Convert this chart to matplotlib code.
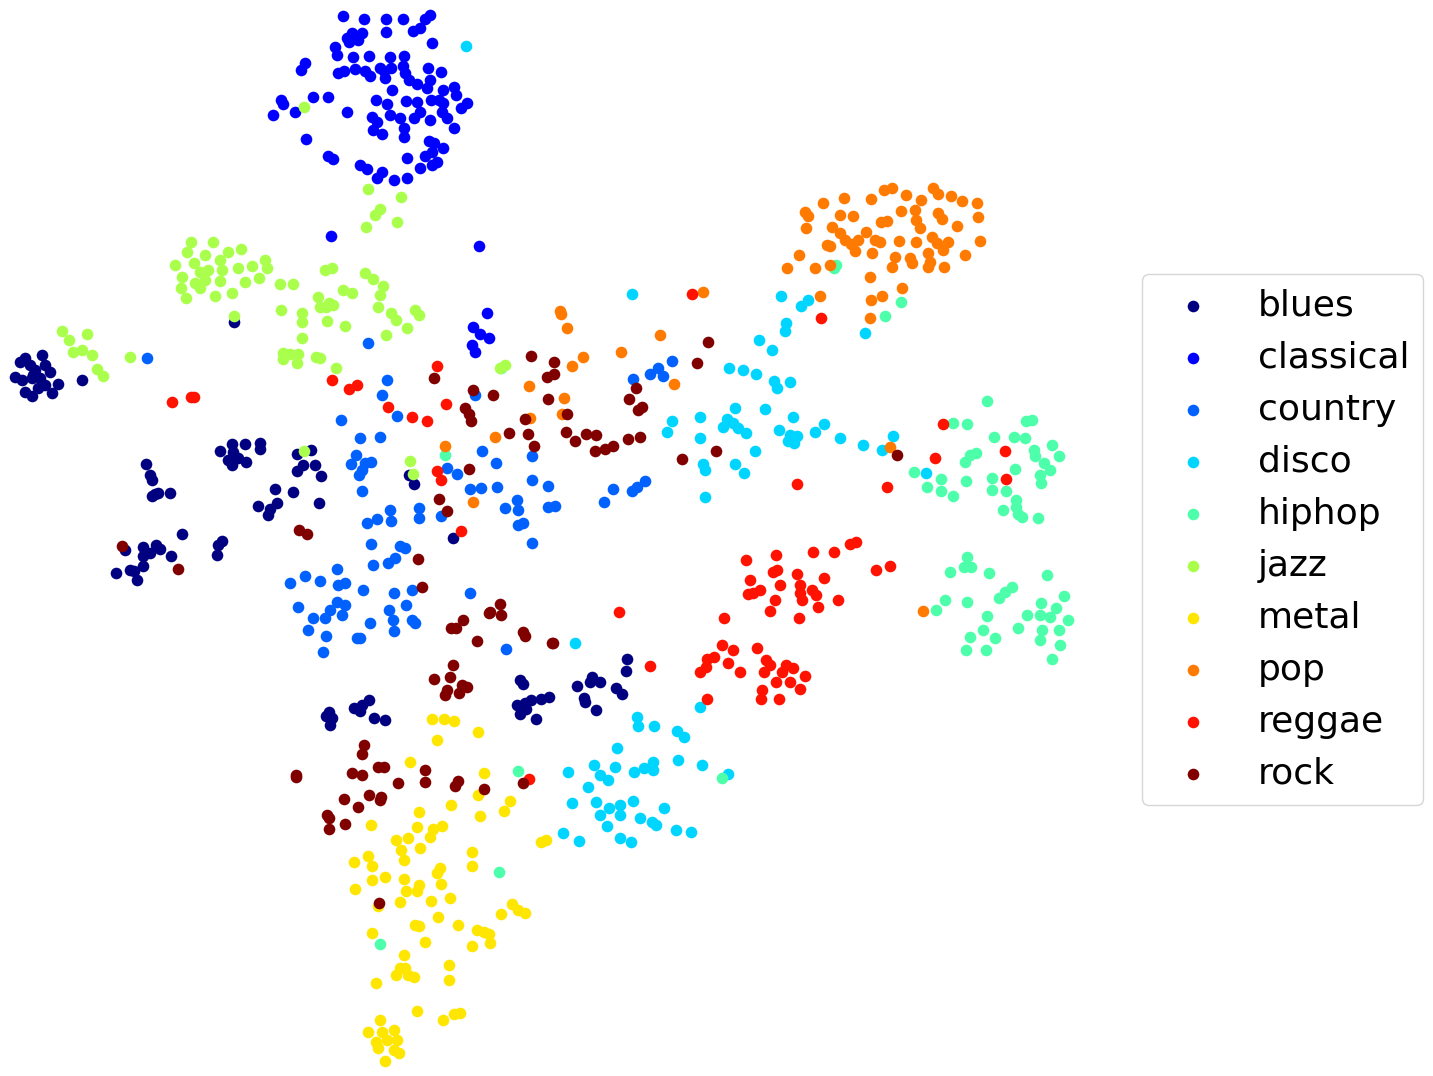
import matplotlib
matplotlib.use('Agg')
from matplotlib import pyplot as plt

genres = ['blues', 'classical', 'country', 'disco', 'hiphop', 'jazz', 'metal', 'pop', 'reggae', 'rock']

blues = [(15,377),(20,362),(25,358),(42,355),(30,365),(35,370),(45,365),(22,380),(32,378),(40,378),(50,372),(58,384),(25,392),(32,396),(45,385),(52,393),(38,388),(82,380),(33,375),
(234,322),(220,451),(232,444),(245,444),(260,443),(260,449),(233,452),(228,460),(238,458),(246,462),(232,465),
(146,464),(150,475),(152,480),(155,494),(152,496),(158,493),(170,493),
(275,489),(293,492),(277,503),(258,506),(268,515),(270,509),(297,454),(311,450),(303,465),(297,471),(315,465),(321,476),(319,503),
(116,573),(130,570),(134,571),(137,580),(125,550),(143,547),(143,556),(156,545),(150,553),(143,566),(171,556),(160,549),(182,534),(217,555),(218,545),(222,541),
(414,484),(409,475),(453,538),(627,659),(626,671),(592,677),(590,682),(600,682),(577,686),(616,688),(622,694),(584,698),(585,702),(596,710),
(520,680),(523,684),(549,697),(541,699),(531,700),(525,703),(517,705),(526,709),(520,714),(536,719),
(329,712),(326,716),(332,718),(330,725),(354,708),(362,705),(369,700),(360,711),(374,718),(385,720)]

classical = [(343,16),(364,19),(386,19),(403,19),(425,19),(430,15),(386,32),(413,31),(362,33),(352,33),(347,38),(358,40),(335,47),(349,42),(420,28),(432,43),
(337,55),(353,57),(369,56),(390,57),(404,56),(403,66),(428,68),(380,68),(391,68),(384,71),(305,63),(301,70),(344,71),(338,73),(355,69),(365,71),(370,76),(385,78),(405,73),(409,80),(430,80),(441,72),
(392,90),(417,84),(427,88),(443,90),(454,87),(456,95),(376,100),(387,104),(406,101),(417,102),(431,100),(439,100),(443,103),(467,103),(461,108),
(281,100),(283,104),(313,97),(328,97),(295,112),(273,115),(347,112),(372,117),(377,122),(390,115),(400,118),(414,118),(420,112),(442,112),(430,120),(447,118),
(404,128),(373,130),(382,134),(404,137),(454,128),(306,139),(429,141),(434,143),(443,148),(432,152),(425,156),(407,158),(328,156),(333,159),(360,165),(367,169),(420,168),(432,165),(437,162),
(382,172),(377,178),(394,180),(407,178),(331,236),(479,246),(487,313),(473,327),(480,334),(489,338),(472,345),(475,352)]

country = [(147,358),(368,343),(387,380),(382,395),(397,416),(341,420),(360,438),(380,437),(356,455),(365,463),(371,462),(351,464),(362,470),(359,475),(362,491),(377,519),(390,510),(391,521),(367,523),(419,508),(419,518),(371,544),(400,546),(405,548),(395,558),(388,563),(373,565),(441,516),
(475,395),(447,468),(457,474),(470,489),(481,488),(496,463),(482,451),(497,487),(517,500),(532,456),(532,480),(548,486),(505,508),(518,510),(523,523),(518,525),(548,507),(555,506),(532,543),
(604,502),(613,489),(632,491),(637,487),(645,481),(633,379),(650,374),(658,368),(663,376),(672,361),
(290,583),(305,576),(320,581),(337,569),(338,585),(345,583),(363,590),(298,607),(337,602),(345,605),(330,610),(313,618),(325,618),(342,615),(394,593),(412,590),(406,605),(389,610),(393,620),(412,620),(415,623),(370,623),(394,631),(308,630),(326,636),(357,638),(360,638),(323,652),(470,593),(506,649)]

disco = [(466,46),(632,294),(865,333),(786,323),(785,331),(759,340),(772,350),(781,296),(801,306),(808,300),(729,368),(743,370),(756,374),(774,381),(777,388),(790,382),(765,409),(793,417),(735,408),(727,419),(723,427),(733,423),(738,428),(746,433),(700,438),(672,421),(667,432),(700,417),(779,430),(790,435),(797,436),(788,441),(794,443),(815,432),(824,424),(840,438),(863,445),(882,450),(893,436),(703,464),(705,470),(735,464),(744,473),(755,451),(705,497),(575,643),(700,707),(637,717),(638,726),(654,726),(677,731),(684,737),(617,748),(568,772),(594,765),(600,775),(588,787),(608,780),(615,767),(634,772),(644,768),(653,762),(653,770),(678,760),(702,765),(728,774),(572,803),(596,802),(609,808),(620,805),(633,801),(600,815),(607,826),(620,815),(640,818),(652,822),(656,825),(664,808),(676,830),(691,832),(620,838),(631,842),(563,833),(579,841),(926,473)]

hiphop = [(836,265),(834,268),(885,316),(901,302),(987,401),(953,423),(967,424),(1026,421),(1032,420),(994,437),(1014,437),(1025,438),(976,453),(970,455),(965,462),(1034,450),(1035,456),(1052,445),(1059,456),(1044,463),(1050,470),(1015,469),(1040,475),(1041,483),(914,472),(927,487),(941,479),(941,491),(966,481),(992,478),(953,496),(992,490),(1006,491),(1016,500),(1003,510),(1016,507),(1018,514),(1022,517),(1038,518),(445,455),(501,368),
(967,557),(964,567),(971,567),(950,572),(989,573),(1047,575),(945,600),(936,610),(967,602),(1012,587),(1005,592),(999,598),(1064,596),(1041,603),(1056,608),(987,616),(1027,615),(1018,628),(1040,615),(1050,617),(1068,620),(1042,630),(1059,630),(983,630),(970,637),(995,638),(1040,640),(1060,645),(966,650),(986,650),(1052,659),(518,771),(722,778),(499,872),(380,944)]

jazz = [(368,189),(380,209),(375,215),(401,197),(366,227),(397,222),(304,107),
(191,242),(213,242),(187,252),(205,255),(228,252),(241,249),(175,265),(194,263),(220,260),(265,260),(200,272),(208,270),(222,270),(238,268),(252,266),(267,268),(182,277),(195,283),(205,280),(220,281),(245,282),(259,278),(181,288),(200,288),(232,293),(186,298),(215,296),(234,316),
(325,270),(332,268),(365,273),(373,279),(280,284),(293,284),(383,286),(343,290),(352,293),(380,295),(318,297),(329,303),(333,305),(320,307),(281,310),(302,313),(326,307),(378,307),(391,313),(415,310),(419,315),(302,322),(327,321),(345,326),(396,320),(407,328),(302,338),
(62,331),(87,334),(69,340),(82,350),(73,352),(92,355),(130,357),(97,369),(103,376),(283,353),(290,354),(298,354),(283,359),(297,363),(316,357),(320,358),(336,368),(386,335),(505,365),(500,368),(304,451),(410,461),(413,474)]

metal = [(432,719),(444,719),(454,721),(478,732),(437,740),(410,762),(484,773),(478,795),(510,801),(504,811),(451,805),(419,812),(371,825),(417,827),(442,826),(480,816),(396,840),(408,838),(433,829),(430,837),(401,850),(420,848),(404,860),(472,852),(354,862),(368,856),(372,866),(472,866),(440,868),(437,873),(372,880),(385,877),(404,879),(419,885),(441,884),(355,889),(406,891),(417,891),(400,902),(431,901),(450,898),(378,906),(512,904),(518,910),(525,913),(501,914),(438,917),(415,925),(419,926),(458,925),(477,930),(484,932),(489,934),(372,933),(425,942),(490,943),(472,946),(404,955),(449,965),(400,968),(405,968),(396,975),(408,975),(414,977),(449,980),(376,983),(417,1011),(443,1020),(454,1014),(460,1013),(380,1020),(368,1032),(382,1032),(394,1030),(376,1042),(387,1040),(397,1040),(378,1048),(394,1050),(399,1053),(385,1061),(541,842),(546,840)]

pop = [(560,311),(561,314),(567,328),(660,335),(583,357),(572,366),(621,352),(703,292),(674,384),(529,386),(564,398),(530,418),(562,414),(445,446),(495,437),(473,502),(890,447),(923,611),
(844,198),(823,203),(805,212),(808,216),(840,215),(806,228),(832,227),(853,216),(871,199),(884,190),(892,188),(906,195),(921,200),(933,188),(938,194),(951,196),(962,201),(977,203),(881,222),(887,221),(901,211),(915,210),(938,213),(942,219),(978,217),(957,226),(916,220),(920,228),(840,233),(845,240),(851,244),(858,240),(830,246),(866,232),(875,240),(880,242),(899,241),(916,242),(932,237),(937,243),(948,242),(980,241),(827,245),(799,255),(855,251),(872,253),(895,257),(910,258),(928,253),(930,262),(943,250),(965,255),(787,268),(815,268),(830,265),(870,277),(892,267),(912,263),(928,267),(944,267),(820,296),(871,300),(882,296),(902,288),(870,318)]

reggae = [(692,294),(821,318),(437,366),(332,380),(349,389),(357,385),(172,402),(191,397),(194,397),(388,407),(412,417),(427,421),(446,404),(943,424),(1005,451),(1006,479),(797,484),(887,487),(935,458),(437,471),(441,480),(461,531),(850,544),(856,542),(876,570),(890,566),(746,560),(776,555),(813,552),(834,552),(773,572),(777,570),(797,574),(750,580),(780,585),(800,585),(824,578),(753,593),(748,594),(760,590),(800,593),(812,590),(816,595),(838,600),(775,600),(802,600),(818,607),(770,611),(799,618),(619,612),(724,618),(722,645),(733,650),(757,648),(707,659),(714,657),(706,667),(700,672),(766,660),(770,665),(786,665),(793,668),(650,666),(728,663),(740,672),(764,672),(782,672),(805,676),(762,690),(776,682),(790,682),(800,689),(707,699),(761,699),(779,699),(529,779)]

rock = [(708,342),(531,356),(554,362),(697,363),(554,374),(547,377),(434,378),(473,390),(493,395),(636,388),(548,399),(629,399),(642,407),(638,410),(465,408),(469,414),(567,414),(471,421),(525,419),(509,433),(528,434),(566,432),(575,441),(586,434),(596,435),(595,451),(605,449),(613,446),(628,439),(640,437),(534,446),(716,451),(682,459),(897,455),(469,469),(439,499),(447,511),(299,530),(307,534),(418,559),(122,546),(178,569),(422,587),(500,604),(490,612),(489,613),(463,620),(501,615),(451,628),(456,628),(477,641),(523,632),(525,636),(552,643),(553,643),(453,665),(434,679),(450,677),(462,685),(467,687),(447,690),(459,693),(445,695),(364,745),(362,754),(378,767),(384,767),(425,770),(352,773),(362,775),(296,775),(296,777),(425,782),(458,781),(455,786),(398,783),(484,789),(344,799),(369,795),(381,797),(380,800),(358,807),(327,815),(329,818),(345,824),(329,829),(523,783),(379,903)]

all_points = [blues, classical, country, disco, hiphop, jazz, metal, pop, reggae, rock]

fig = plt.figure(figsize=(14.33, 10.76), dpi=100)
ax = fig.add_axes([0, 0, 1, 1])

for i in range(len(genres)):
   xs = [p[0] for p in all_points[i]]
   ys = [p[1] for p in all_points[i]]
   ax.scatter(xs, ys, s=70, color=plt.cm.jet(i / 9), label=genres[i], linewidths=0)

ax.set_xlim(0, 1433)
ax.set_ylim(1076, 0)
ax.axis('off')
ax.legend(loc='upper left', bbox_to_anchor=(1142, 274), bbox_transform=ax.transData,
          borderaxespad=0, fontsize=26)

plt.savefig('out.png', dpi=100)
